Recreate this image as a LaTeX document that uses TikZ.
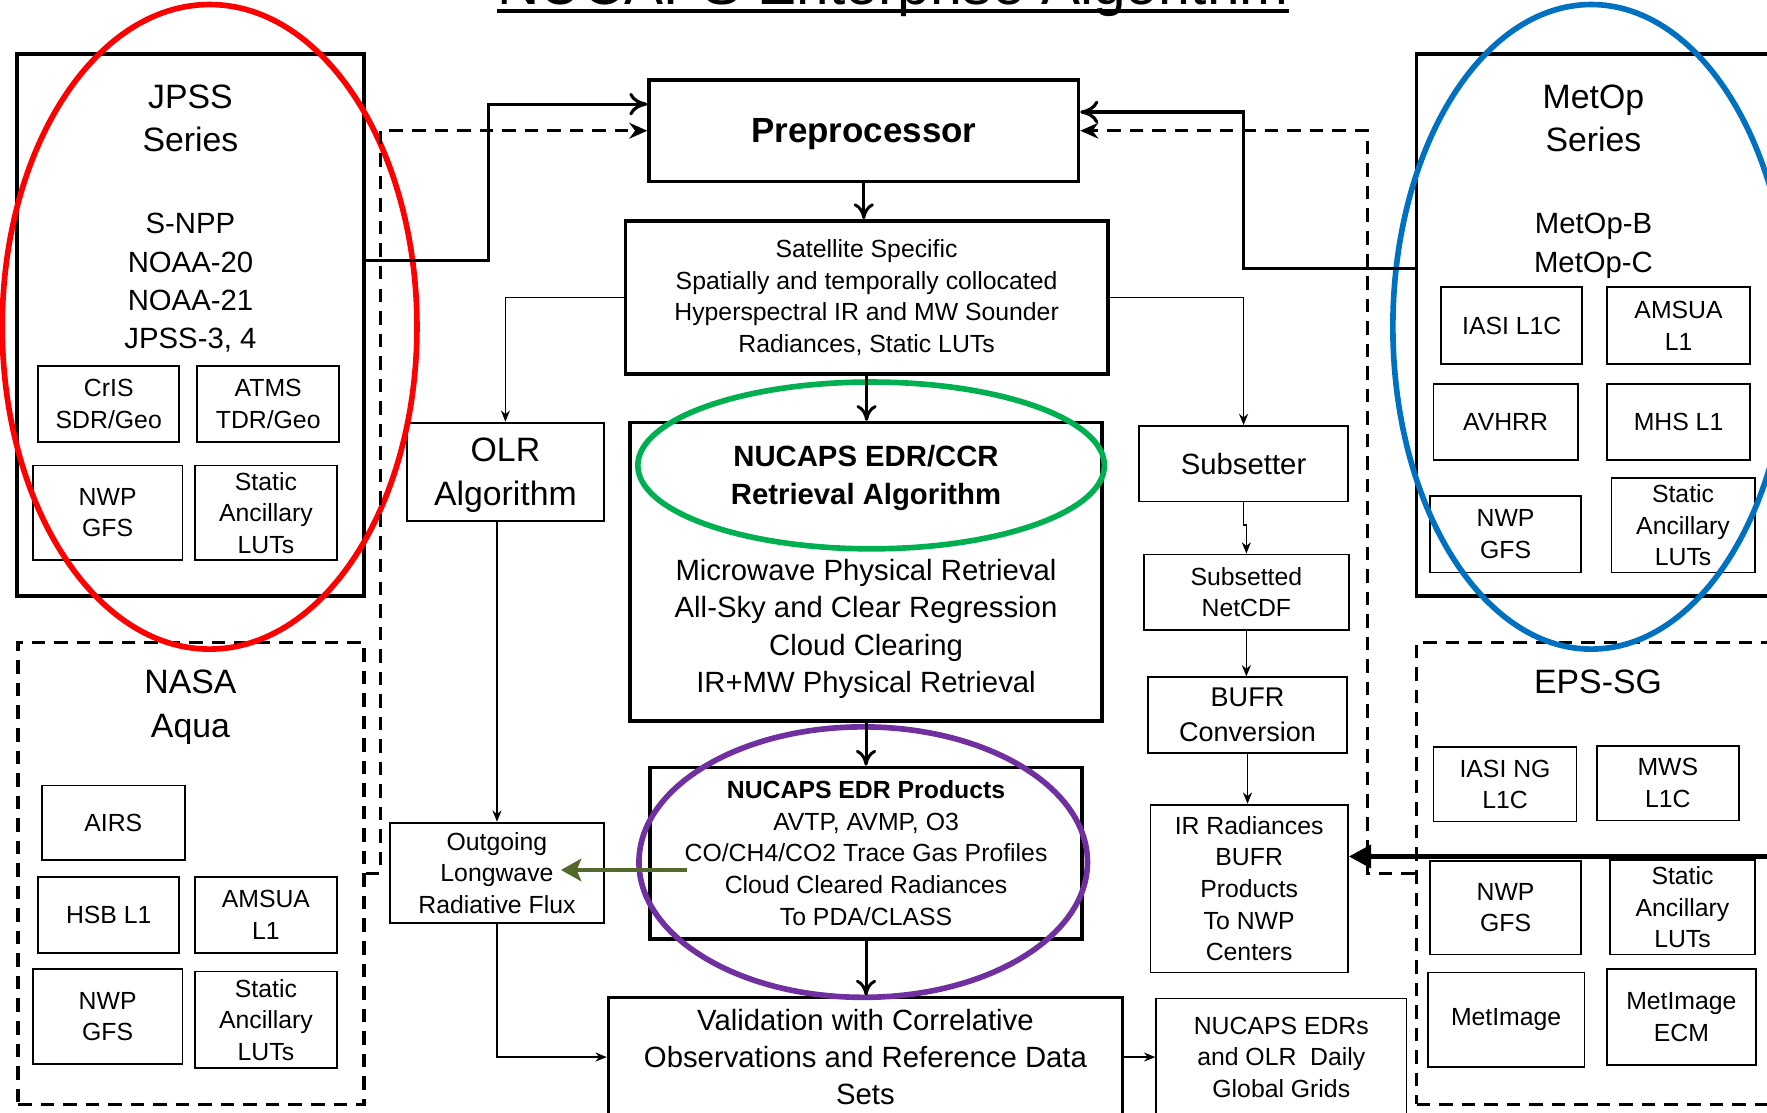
\documentclass[tikz,border=0pt]{standalone}
\usepackage{fontspec}
\setmainfont{Liberation Sans}
\usetikzlibrary{arrows.meta,calc,shapes.geometric}

\newcommand\setfs[2]{\fontsize{#1}{#2}\selectfont}

\definecolor{ringred}{RGB}{255,0,0}
\definecolor{ringgreen}{RGB}{0,176,80}
\definecolor{ringblue}{RGB}{0,112,192}
\definecolor{ringpurple}{RGB}{112,48,160}
\definecolor{olive}{RGB}{84,106,44}

\tikzset{
  sz/.style 2 args={minimum width=#1*0.5pt, minimum height=#2*0.5pt},
  box/.style={draw, line width=0.8pt, align=center, inner sep=0pt, font=\setfs{11}{14}},
  mainbox/.style={draw, line width=1.6pt, align=center, inner sep=0pt},
  grpbox/.style={draw, line width=1.6pt, inner sep=0pt},
  grpdash/.style={draw, line width=1.6pt, dash pattern=on 6pt off 4pt, inner sep=0pt},
  grptitle/.style={align=center, inner sep=0pt, font=\setfs{15}{19.5}},
  sublist/.style={align=center, inner sep=0pt, font=\setfs{13}{17}},
  flow/.style={line width=0.7pt, -{Stealth[length=5pt,width=4pt]}},
  mainflow/.style={line width=1.3pt, -{To[length=7pt,width=9pt]}},
  feed/.style={line width=1.4pt, -{To[length=8pt,width=10pt]}},
  dfeed/.style={line width=1.4pt, dash pattern=on 6pt off 4pt, -{Stealth[length=8pt,width=7pt]}},
  ring/.style={ellipse, draw=#1, line width=2.5pt, inner sep=0pt},
}

\begin{document}
\begin{tikzpicture}[x=0.5pt, y=-0.5pt]
  \useasboundingbox (0,0) rectangle (1568,987);

  % title, cut by the page edge
  \node[inner sep=0pt, anchor=base, font=\setfs{26}{30}] (title) at (792.5,4) {NUCAPS Enterprise Algorithm};
  \draw[line width=1.6pt] ($(title.base west)+(0,6)$) -- ($(title.base east)+(0,6)$);

  % JPSS
  \node[grpbox, sz={308}{481}] (jpss) at (169,288.5) {};
  \node[grptitle] (jpsst) at (169,105) {JPSS\\Series};
  \node[sublist] (jpssl) at (169,251) {S-NPP\\NOAA-20\\NOAA-21\\JPSS-3, 4};
  \node[box, sz={125}{67}] (cris) at (96.5,358.5) {CrIS\\SDR/Geo};
  \node[box, sz={126}{67}] (atms) at (238,358.5) {ATMS\\TDR/Geo};
  \node[box, sz={133}{84}] (jnwp) at (95.5,455) {NWP\\GFS};
  \node[box, sz={126}{84}] (jlut) at (236,455) {Static\\Ancillary\\LUTs};

  % NASA Aqua
  \node[grpdash, sz={307}{410}] (nasa) at (169.5,775) {};
  \node[grptitle] (nasat) at (169,627.5) {NASA\\Aqua};
  \node[box, sz={127}{66}] (airs) at (100.5,730) {AIRS};
  \node[box, sz={125}{68}] (hsb) at (96.5,812) {HSB L1};
  \node[box, sz={126}{68}] (namsu) at (236,812) {AMSUA\\L1};
  \node[box, sz={133}{84}] (nnwp) at (95.5,902) {NWP\\GFS};
  \node[box, sz={126}{86}] (nlut) at (236,905) {Static\\Ancillary\\LUTs};

  % MetOp
  \node[grpbox, sz={314}{481}] (metop) at (1414,288.5) {};
  \node[grptitle] (metopt) at (1414,105) {MetOp\\Series};
  \node[sublist] (metopl) at (1414,218) {MetOp-B\\MetOp-C};
  \node[box, sz={125}{68}] (iasi) at (1341.5,289) {IASI L1C};
  \node[box, sz={127}{68}] (mamsu) at (1489.5,289) {AMSUA\\L1};
  \node[box, sz={128}{67}] (avhrr) at (1336,374.5) {AVHRR};
  \node[box, sz={127}{67}] (mhs) at (1489.5,374.5) {MHS L1};
  \node[box, sz={134}{68}] (mnwp) at (1336,474) {NWP\\GFS};
  \node[box, sz={127}{84}] (mlut) at (1493.5,466) {Static\\Ancillary\\LUTs};

  % EPS-SG
  \node[grpdash, sz={314}{410}] (eps) at (1414,775) {};
  \node[grptitle] (epst) at (1418,605) {EPS-SG};
  \node[box, sz={127}{66}] (iasing) at (1335.5,696) {IASI NG\\L1C};
  \node[box, sz={126}{66}] (mws) at (1480,695) {MWS\\L1C};
  \node[box, sz={134}{83}] (enwp) at (1336,805.5) {NWP\\GFS};
  \node[box, sz={128}{84}] (elut) at (1493,805) {Static\\Ancillary\\LUTs};
  \node[box, sz={139}{84}] (metim) at (1336.5,905) {MetImage};
  \node[box, sz={132}{85}] (ecm) at (1492,902.5) {MetImage\\ECM};

  % processing chain
  \node[mainbox, sz={381}{90}, text depth=0pt, font=\bfseries\setfs{15.5}{18}] (pre) at (766.5,116) {Preprocessor};
  \node[mainbox, sz={428}{136}, font=\setfs{11}{14}] (sat) at (769,264)
    {Satellite Specific\\Spatially and temporally collocated\\Hyperspectral IR and MW Sounder\\Radiances, Static LUTs};
  \node[box, sz={175}{87}, text depth=0pt, font=\setfs{15}{19.5}] (olr) at (448.5,418.5) {OLR\\Algorithm};
  \node[box, sz={190}{89}] (olrflux) at (441,774.5) {Outgoing\\Longwave\\Radiative Flux};
  \node[mainbox, sz={419}{265}, font=\setfs{13}{16.5}] (retr) at (768.5,507.5)
    {\textbf{NUCAPS EDR/CCR}\\\textbf{Retrieval Algorithm}\\[17.5pt]Microwave Physical Retrieval\\All-Sky and Clear Regression\\Cloud Clearing\\IR+MW Physical Retrieval};
  \node[mainbox, sz={383}{152}, font=\setfs{11}{14}] (prod) at (768.5,757)
    {\textbf{NUCAPS EDR Products}\\AVTP, AVMP, O3\\CO/CH4/CO2 Trace Gas Profiles\\Cloud Cleared Radiances\\To PDA/CLASS};
  \node[mainbox, sz={456}{106}, font=\setfs{13}{16.5}] (val) at (768,938)
    {Validation with Correlative\\Observations and Reference Data\\Sets};
  \node[box, sz={222}{104}] (grids) at (1137,938) {NUCAPS EDRs\\and OLR\ \ Daily\\Global Grids};
  \node[box, sz={185}{67}, font=\setfs{13}{16}] (subs) at (1103.5,411.5) {Subsetter};
  \node[box, sz={182}{67}] (netcdf) at (1106,525.5) {Subsetted\\NetCDF};
  \node[box, sz={176}{67}, font=\setfs{12}{15.5}] (bufr) at (1107,634.5) {BUFR\\Conversion};
  \node[box, sz={175}{149}] (irrad) at (1108.5,788.5) {IR Radiances\\BUFR\\Products\\To NWP\\Centers};

  % highlight rings
  \node[ring=ringred, sz={368}{572}] (redring) at (186,290) {};
  \node[ring=ringblue, sz={352}{572}] (bluering) at (1412,290) {};
  \node[ring=ringgreen, sz={414}{148}] (greenring) at (773,413) {};
  \node[ring=ringpurple, sz={398}{240}] (purplering) at (766,765) {};

  % feeds into the preprocessor
  \draw[feed] ($(jpss.north east)+(0,185)$) -- ++(109,0) |- ($(pre.north west)+(0,23)$);
  \draw[dfeed] (nasa.east) -- ++(13,0) |- (pre.west);
  \draw[feed] ($(metop.north west)+(0,192)$) -- ++(-152,0) |- ($(pre.north east)+(0,30)$);
  \draw[dfeed] (eps.west) -- ++(-42,0) |- (pre.east);

  % main chain
  \draw[mainflow] (pre.south) -- (pre.south |- sat.north);
  \draw[mainflow] (sat.south) -- (sat.south |- retr.north);
  \draw[mainflow] (retr.south) -- (retr.south |- prod.north);
  \draw[mainflow] (prod.south) -- (prod.south |- val.north);
  \draw[flow] (sat.west) -| (olr.north);
  \draw[flow] (olr.south -| olrflux.north) -- (olrflux.north);
  \draw[flow] (olrflux.south) |- (val.west);
  \draw[flow] (val.east) -- (grids.west);
  \draw[flow] (sat.east) -| (subs.north);
  \draw[flow] (subs.south) -- ++(0,20) -| (netcdf.north);
  \draw[flow] (netcdf.south) -- (netcdf.south |- bufr.north);
  \draw[flow] (bufr.south) -- (bufr.south |- irrad.north);
  \draw[olive, line width=2pt, -{Stealth[length=9pt,width=10pt,inset=2pt]}]
    ($(prod.west)+(34,15)$) -- ($(olrflux.east)+(-39,-2.5)$);
  \coordinate (rightin) at (1580,760);
  \draw[line width=2.6pt, -{Triangle[length=10pt,width=10pt]}] (rightin) -- (irrad.east |- rightin);
\end{tikzpicture}
\end{document}
